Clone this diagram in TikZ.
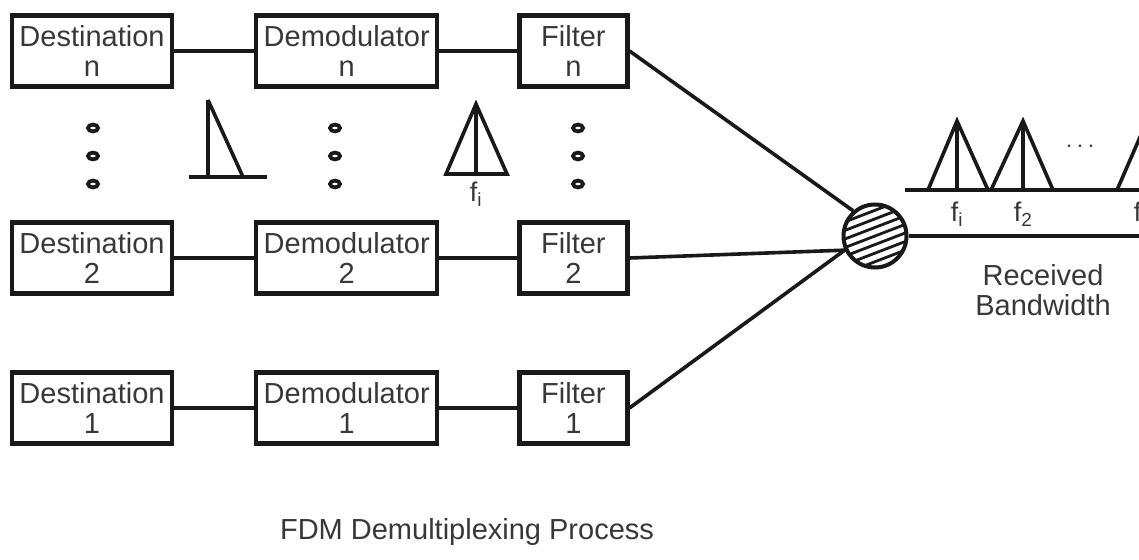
\documentclass[tikz,border=0pt]{standalone}
\usepackage{fontspec}
\setmainfont{Liberation Sans}
\usetikzlibrary{positioning}

\begin{document}
\begin{tikzpicture}[x=1pt, y=-1pt]
   \tikzstyle{every node}=[text=black!78, font=\fontsize{29}{30}\selectfont]
   \tikzstyle{block}=[draw=black!90, line width=4.2pt, minimum height=71pt, align=center, inner sep=0pt]
   \tikzstyle{wire}=[draw=black!90, line width=3.6pt]
   \tikzstyle{ring}=[draw=black!90, line width=3.8pt]
   \tikzstyle{freq}=[font=\fontsize{27}{27}\selectfont, inner sep=0pt]

\clip (0,0) rectangle (1139,559);
\fill[white] (0,0) rectangle (1139,559);

% channel n
\node[block, minimum width=160pt] (destn) at (92,51) {Destination\\n};
\node[block, minimum width=181pt, right=80pt of destn] (demodn) {Demodulator\\n};
\node[block, minimum width=108pt, right=78pt of demodn] (filtern) {Filter\\n};

% channel 2
\node[block, minimum width=160pt] (dest2) at (92,258) {Destination\\2};
\node[block, minimum width=181pt, right=80pt of dest2] (demod2) {Demodulator\\2};
\node[block, minimum width=108pt, right=78pt of demod2] (filter2) {Filter\\2};

% channel 1
\node[block, minimum width=160pt] (dest1) at (92,408) {Destination\\1};
\node[block, minimum width=181pt, right=80pt of dest1] (demod1) {Demodulator\\1};
\node[block, minimum width=108pt, right=78pt of demod1] (filter1) {Filter\\1};

\draw[wire] (destn) -- (demodn);
\draw[wire] (demodn) -- (filtern);
\draw[wire] (dest2) -- (demod2);
\draw[wire] (demod2) -- (filter2);
\draw[wire] (dest1) -- (demod1);
\draw[wire] (demod1) -- (filter1);

% vertical dots between the rows
\foreach \x in {93,335,578}
   \foreach \y in {128,156,184}
      \draw[ring] (\x,\y) ellipse (5pt and 3.4pt);

% demodulated signal
\draw[wire] (208,100) -- (208,177);
\draw[wire] (208,100) -- (243,177);
\draw[wire] (189,177) -- (267,177);

% filtered signal
\draw[wire, line join=miter] (446,174) -- (476,104) -- (507,174) -- cycle;
\draw[wire] (476,104) -- (476,174);
\node[freq] (fsel) at (476,194) {f\textsubscript{i}};

% hatched splitter
\begin{scope}
   \clip (875,236) circle (31pt);
   \foreach \k in {-40,-32,...,40}
      \draw[line width=2.8pt, black!90, shift={(875,236)}, rotate=21] (-45,\k) -- (45,\k);
\end{scope}
\node[circle, draw=black!90, line width=4pt, minimum size=63pt, inner sep=0pt] (mux) at (875,236) {};

\draw[wire] (filtern.east) -- (mux.131);
\draw[wire] (filter2.east) -- (mux.205);
\draw[wire] (filter1.east) -- (mux.205);

\coordinate (bwend) at (1145,236);
\draw[wire] (mux.east) -- (bwend);

% received bandwidth
\draw[wire] (905,190) -- (1145,190);
\draw[wire, line join=miter] (928,190) -- (957,121) -- (988,190);
\draw[wire] (957,121) -- (957,190);
\draw[wire, line join=miter] (991,190) -- (1023,121) -- (1053,190);
\draw[wire] (1023,121) -- (1023,190);
\draw[wire, line join=miter] (1117,190) -- (1147,121) -- (1177,190);
\node[font=\fontsize{30}{30}\selectfont] (gap) at (1080,147) {$\cdots$};
\node[freq] (f1) at (957,214) {f\textsubscript{i}};
\node[freq] (f2) at (1023,214) {f\textsubscript{2}};
\node[freq] (fn) at (1143,214) {f\textsubscript{n}};

\node[align=center] (rbw) at (1043,290) {Received\\Bandwidth};

\node (title) at (467,532) {FDM Demultiplexing Process};

\end{tikzpicture}
\end{document}
